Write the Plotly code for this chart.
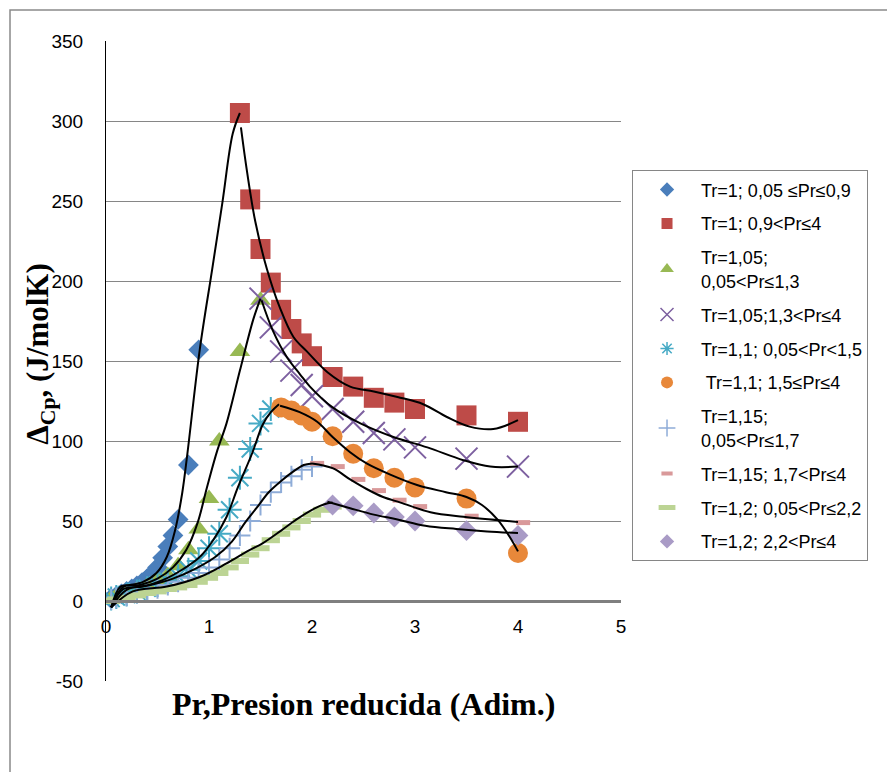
import plotly.graph_objects as go

# ---------------- data ----------------
s1_x = [0.05, 0.1, 0.15, 0.2, 0.25, 0.3, 0.35, 0.4, 0.45, 0.5, 0.55, 0.6, 0.65, 0.7, 0.8, 0.9]
s1_y = [1.5, 3, 4.5, 6, 7.5, 9.5, 11.5, 14, 17, 21, 27, 34, 41, 51, 85, 157]

s2_x = [1.3, 1.4, 1.5, 1.6, 1.7, 1.8, 1.9, 2.0, 2.2, 2.4, 2.6, 2.8, 3.0, 3.5, 4.0]
s2_y = [305, 251, 220, 199, 182, 170, 161, 153, 140, 134, 127, 124, 120, 116, 112]

s3_x = [0.05, 0.1, 0.2, 0.3, 0.4, 0.5, 0.6, 0.7, 0.8, 0.9, 1.0, 1.1, 1.3, 1.5]
s3_y = [1.5, 3, 5, 7, 9.5, 12.5, 16, 22, 32, 45, 64, 100, 156, 188]

s4_x = [1.5, 1.6, 1.7, 1.8, 1.9, 2.0, 2.2, 2.4, 2.6, 2.8, 3.0, 3.5, 4.0]
s4_y = [189, 171, 156, 144, 135, 128, 120, 112, 105, 101, 96, 89, 84]

s5_x = [0.05, 0.1, 0.2, 0.3, 0.4, 0.5, 0.6, 0.7, 0.8, 0.9, 1.0, 1.1, 1.2, 1.3, 1.4, 1.5, 1.6]
s5_y = [1.5, 2.5, 4, 6, 8, 10, 12.5, 15.5, 19.5, 25, 33, 42, 57, 77, 95, 111, 120]

s6_x = [1.7, 1.8, 1.9, 2.0, 2.2, 2.4, 2.6, 2.8, 3.0, 3.5, 4.0]
s6_y = [121, 119, 116, 112, 103, 92, 83, 77, 71, 64, 30]

s7_x = [0.05, 0.1, 0.2, 0.3, 0.4, 0.5, 0.6, 0.7, 0.8, 0.9, 1.0, 1.1, 1.2, 1.3, 1.4, 1.5, 1.6, 1.7, 1.8, 1.9, 2.0]
s7_y = [1, 2, 3.5, 5, 6.5, 8, 10, 12, 14.5, 17.5, 21, 26, 33, 41, 50, 60, 68, 74, 78, 82, 84]

s8_x = [2.05, 2.25, 2.45, 2.65, 2.85, 3.05, 3.55, 4.05]
s8_y = [86, 84, 76, 69, 63, 59, 53, 49]

s9_x = [0.05, 0.1, 0.2, 0.3, 0.4, 0.5, 0.6, 0.7, 0.8, 0.9, 1.0, 1.1, 1.2, 1.3, 1.4, 1.5, 1.6, 1.7, 1.8, 1.9, 2.0, 2.1, 2.2]
s9_y = [0, 1, 2, 3.5, 5, 6, 7.5, 8.5, 10, 12, 14.5, 17.5, 21, 25, 29, 33, 38, 42, 46, 50, 54, 57, 59]

s10_x = [2.2, 2.4, 2.6, 2.8, 3.0, 3.5, 4.0]
s10_y = [60, 59.5, 55, 52.5, 50, 44, 41]

# trendlines (black curves)
tA_x = [0.05, 0.14, 0.23, 0.36, 0.49, 0.59, 0.67, 0.74, 0.79, 0.91, 1.03, 1.13, 1.23, 1.3]
tA_y = [-4, 9, 10, 12, 17.5, 27.5, 44, 67.5, 92, 157, 207, 249, 292, 305]
tB_x = [1.31, 1.37, 1.45, 1.56, 1.69, 1.82, 1.95, 2.15, 2.37, 2.6, 2.83, 3.08, 3.31, 3.53, 3.76, 4.0]
tB_y = [296, 268, 237, 208, 183, 165, 156, 143, 134, 131, 127.5, 123, 115, 109, 107.5, 113]
tC_x = [0.05, 0.17, 0.33, 0.5, 0.65, 0.78, 0.89, 0.98, 1.08, 1.17, 1.3, 1.43, 1.5]
tC_y = [-4, 9, 10, 14, 21, 32, 49, 71, 94, 111, 144, 176, 189]
tD_x = [1.51, 1.62, 1.76, 1.88, 1.98, 2.2, 2.47, 2.79, 3.12, 3.47, 3.73, 4.0]
tD_y = [188, 169, 152, 142, 134, 121, 111, 102.5, 96, 88, 84, 84]
tE_x = [0.05, 0.17, 0.36, 0.55, 0.75, 0.91, 1.04, 1.17, 1.28, 1.42, 1.52, 1.6, 1.68]
tE_y = [-4, 7.5, 9, 13, 20, 27.5, 38, 52.5, 71, 92.5, 110, 118, 123]
tF_x = [1.69, 1.88, 2.05, 2.2, 2.37, 2.53, 2.76, 3.02, 3.3, 3.5, 3.65, 3.8, 3.92, 4.0]
tF_y = [122, 118, 112, 102.5, 93, 86, 79, 72.5, 68, 65, 60, 51, 40, 31]
tG_x = [0.05, 0.2, 0.43, 0.65, 0.88, 1.06, 1.22, 1.35, 1.46, 1.58, 1.7, 1.82, 1.92, 2.0]
tG_y = [-4, 7, 10, 14, 20.6, 27.5, 37, 49, 58, 68, 75, 81, 85, 86]
tH_x = [2.0, 2.2, 2.37, 2.53, 2.69, 2.86, 3.15, 3.47, 4.0]
tH_y = [86, 83, 76, 70, 65, 61.5, 55.5, 52.6, 49.4]
tI_x = [0.05, 0.26, 0.59, 0.91, 1.17, 1.37, 1.52, 1.7, 1.85, 2.0, 2.12, 2.2]
tI_y = [-4, 6, 9, 15, 23.5, 31, 36, 44, 51, 57, 60.5, 61.5]
tJ_x = [2.15, 2.37, 2.6, 2.83, 3.1, 3.4, 3.7, 4.0]
tJ_y = [62, 58, 54, 51, 47, 45, 43.5, 42.5]

y_ticks = [-50, 0, 50, 100, 150, 200, 250, 300, 350]
y_ticklabels = ["-50", "0", "50", "100", "150", "200", "250", "300", "350"]
x_ticks = [0, 1, 2, 3, 4, 5]
x_ticklabels = ["0", "1", "2", "3", "4", "5"]

names = [
    "Tr=1; 0,05 ≤Pr≤0,9",
    "Tr=1; 0,9&lt;Pr≤4",
    "Tr=1,05;<br>0,05&lt;Pr≤1,3",
    "Tr=1,05;1,3&lt;Pr≤4",
    "Tr=1,1; 0,05&lt;Pr&lt;1,5",
    " Tr=1,1; 1,5≤Pr≤4",
    "Tr=1,15;<br>0,05&lt;Pr≤1,7",
    "Tr=1,15; 1,7&lt;Pr≤4",
    "Tr=1,2; 0,05&lt;Pr≤2,2",
    "Tr=1,2; 2,2&lt;Pr≤4",
]
xs = [s1_x, s2_x, s3_x, s4_x, s5_x, s6_x, s7_x, s8_x, s9_x, s10_x]
ys = [s1_y, s2_y, s3_y, s4_y, s5_y, s6_y, s7_y, s8_y, s9_y, s10_y]

colors = ["#4A7EBB", "#BE4B48", "#98B954", "#7D60A0", "#46AAC5",
          "#E8883A", "#8EACD8", "#D9999A", "#BCD494", "#A99BC6"]
symbols = ["diamond", "square", "triangle-up", "x-thin-open", "asterisk-open",
           "circle", "cross-thin-open", "line-ew-open", "line-ew-open", "diamond"]
plot_sizes = [16, 20, 18, 22, 20, 20, 15, 10, 13, 16]
plot_lw = [0, 0, 0, 2, 2, 0, 2, 5, 6, 0]
legend_sizes = [11, 11, 12, 13, 11, 12, 12, 8, 12, 11]
legend_lw = [0, 0, 0, 1.5, 1.5, 0, 1.5, 4, 5, 0]

fig = go.Figure()
for i in range(10):
    fig.add_trace(go.Scatter(
        x=xs[i], y=ys[i], mode="markers", name=names[i], showlegend=False,
        marker=dict(symbol=symbols[i], size=plot_sizes[i], color=colors[i],
                    line=dict(width=plot_lw[i], color=colors[i])),
    ))

trend = [(tA_x, tA_y), (tB_x, tB_y), (tC_x, tC_y), (tD_x, tD_y), (tE_x, tE_y),
         (tF_x, tF_y), (tG_x, tG_y), (tH_x, tH_y), (tI_x, tI_y), (tJ_x, tJ_y)]
for tx, ty in trend:
    fig.add_trace(go.Scatter(
        x=tx, y=ty, mode="lines", showlegend=False, hoverinfo="skip",
        line=dict(color="black", width=2, shape="spline", smoothing=1.0),
    ))

# legend entries (same styles, legend-sized symbols)
for i in range(10):
    fig.add_trace(go.Scatter(
        x=[None], y=[None], mode="markers", name=names[i],
        legendgroup=f"g{i}", showlegend=True,
        marker=dict(symbol=symbols[i], size=legend_sizes[i], color=colors[i],
                    line=dict(width=legend_lw[i], color=colors[i])),
    ))

serif = "Liberation Serif, Times New Roman, serif"
fig.update_layout(
    width=887, height=772,
    margin=dict(l=106, r=266, t=41, b=91),
    paper_bgcolor="white", plot_bgcolor="white",
    font=dict(family="Liberation Sans, Arial, sans-serif", size=19, color="black"),
    showlegend=True,
    legend=dict(
        x=1.0214, y=0.798, xanchor="left", yanchor="top",
        bordercolor="#868686", borderwidth=1, bgcolor="white",
        font=dict(size=18, family="Liberation Sans, Arial, sans-serif"),
        itemsizing="trace", itemwidth=58, tracegroupgap=7.5,
        traceorder="grouped",
    ),
    xaxis=dict(
        range=[0, 5], tickvals=x_ticks, ticktext=x_ticklabels,
        showgrid=False, zeroline=False,
        anchor="free", position=0.125,
        showline=True, linecolor="#7f7f7f", linewidth=3,
        ticks="", ticklabelstandoff=7,
        tickfont=dict(size=19),
    ),
    yaxis=dict(
        range=[-50, 350], tickvals=y_ticks, ticktext=y_ticklabels,
        showgrid=True, gridcolor="#868686",
        gridwidth=1, zeroline=False, showline=True, linecolor="black", linewidth=1,
        ticks="", ticklabelstandoff=18, tickfont=dict(size=19),
    ),
    shapes=[dict(type="rect", xref="paper", yref="paper",
                 x0=-0.1864, x1=1.6, y0=-0.25, y1=1.0484,
                 line=dict(color="#8a8a8a", width=1.5), fillcolor="rgba(0,0,0,0)",
                 layer="below")],
    annotations=[
        dict(text="<b>Pr,Presion reducida (Adim.)</b>", xref="paper", yref="paper",
             x=0.5, y=-0.036, xanchor="center", yanchor="middle", showarrow=False,
             font=dict(family=serif, size=32, color="black")),
        dict(text="<b>Δ<sub>Cp</sub>, (J/molK)</b>", xref="paper", yref="paper",
             x=-0.128, y=0.51, xanchor="center", yanchor="middle", showarrow=False,
             textangle=-90,
             font=dict(family=serif, size=31, color="black")),
    ],
)

fig.write_html("out.html")
